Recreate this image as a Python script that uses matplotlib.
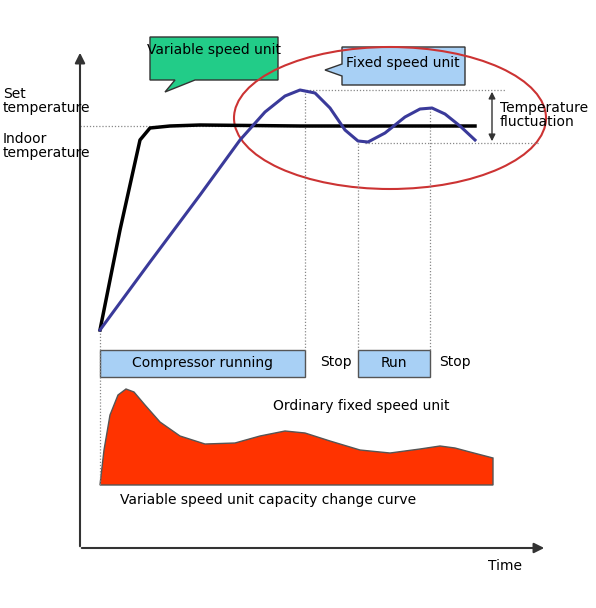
import matplotlib
matplotlib.use("Agg")
import matplotlib.pyplot as plt
from matplotlib.patches import Ellipse, Polygon, FancyArrowPatch

# Data (pixel-space diagram coordinates)
black_x = [100, 120, 140, 150, 170, 200, 300, 400, 475]
black_y = [330, 230, 140, 128, 126, 125, 126, 126, 126]
blue_x = [100, 150, 200, 240, 265, 285, 300, 315, 330, 345, 358, 368, 385, 405, 420, 432, 445, 460, 475]
blue_y = [330, 262, 195, 140, 112, 96, 90, 93, 108, 130, 141, 142, 133, 117, 109, 108, 114, 126, 140]
red_x = [100, 104, 110, 118, 126, 134, 145, 160, 180, 205, 235, 260, 285, 305, 330, 360, 390, 420, 440, 455, 470, 493, 493]
red_y = [485, 450, 415, 395, 389, 392, 405, 422, 436, 444, 443, 436, 431, 433, 441, 450, 453, 449, 446, 448, 452, 458, 485]

fig = plt.figure(figsize=(5.96, 6.08), dpi=100)
ax = fig.add_axes([0, 0, 1, 1])
ax.set_xlim(0, 596); ax.set_ylim(608, 0); ax.axis("off")

# axes arrows
ax.annotate("", xy=(80, 50), xytext=(80, 549), arrowprops=dict(arrowstyle="-|>", lw=1.5, color="#333", mutation_scale=15))
ax.annotate("", xy=(547, 548), xytext=(79, 548), arrowprops=dict(arrowstyle="-|>", lw=1.5, color="#333", mutation_scale=15))

dot = dict(color="#888", lw=0.9, ls=(0, (1, 1.5)))
ax.plot([80, 475], [126, 126], **dot)
ax.plot([300, 505], [90, 90], **dot)
ax.plot([365, 540], [143, 143], **dot)
ax.plot([100, 100], [330, 485], **dot)
ax.plot([305, 305], [90, 350], **dot)
ax.plot([358, 358], [143, 350], **dot)
ax.plot([430, 430], [108, 350], **dot)

# red capacity area
ax.add_patch(Polygon(list(zip(red_x, red_y)) + [(100, 485)], closed=True, fc="#ff3300", ec="#555", lw=1))

ax.plot(black_x, black_y, color="black", lw=2.5)
ax.plot(blue_x, blue_y, color="#3a3a9a", lw=2.2)

# boxes
for (x0, x1, t) in [(100, 305, "Compressor running"), (358, 430, "Run")]:
    ax.add_patch(plt.Rectangle((x0, 350), x1 - x0, 27, fc="#a8d0f5", ec="#555", lw=1))
    ax.text((x0 + x1) / 2, 363, t, ha="center", va="center", fontsize=10)
ax.text(320, 362, "Stop", ha="left", va="center", fontsize=10)
ax.text(439, 362, "Stop", ha="left", va="center", fontsize=10)

# callouts
ax.add_patch(Polygon([(150, 37), (278, 37), (278, 80), (195, 80), (165, 92), (175, 80), (150, 80)], closed=True, fc="#22cc88", ec="#333", lw=1))
ax.text(214, 50, "Variable speed unit", ha="center", va="center", fontsize=10)
ax.add_patch(Polygon([(342, 47), (465, 47), (465, 85), (342, 85), (342, 76), (325, 70), (342, 64)], closed=True, fc="#a8d0f5", ec="#333", lw=1))
ax.text(403, 63, "Fixed speed unit", ha="center", va="center", fontsize=10)

ax.add_patch(Ellipse((390, 118), 312, 142, fill=False, ec="#cc3333", lw=1.5))
ax.annotate("", xy=(492, 89), xytext=(492, 144), arrowprops=dict(arrowstyle="<|-|>", lw=1, color="#333", mutation_scale=10))
ax.text(500, 115, "Temperature\nfluctuation", ha="left", va="center", fontsize=10, linespacing=0.95)

ax.text(3, 101, "Set\ntemperature", ha="left", va="center", fontsize=10, linespacing=0.95)
ax.text(3, 146, "Indoor\ntemperature", ha="left", va="center", fontsize=10, linespacing=0.95)
ax.text(273, 406, "Ordinary fixed speed unit", ha="left", va="center", fontsize=10)
ax.text(120, 500, "Variable speed unit capacity change curve", ha="left", va="center", fontsize=10)
ax.text(488, 566, "Time", ha="left", va="center", fontsize=10)

fig.savefig("out.png", dpi=100, facecolor="white")
